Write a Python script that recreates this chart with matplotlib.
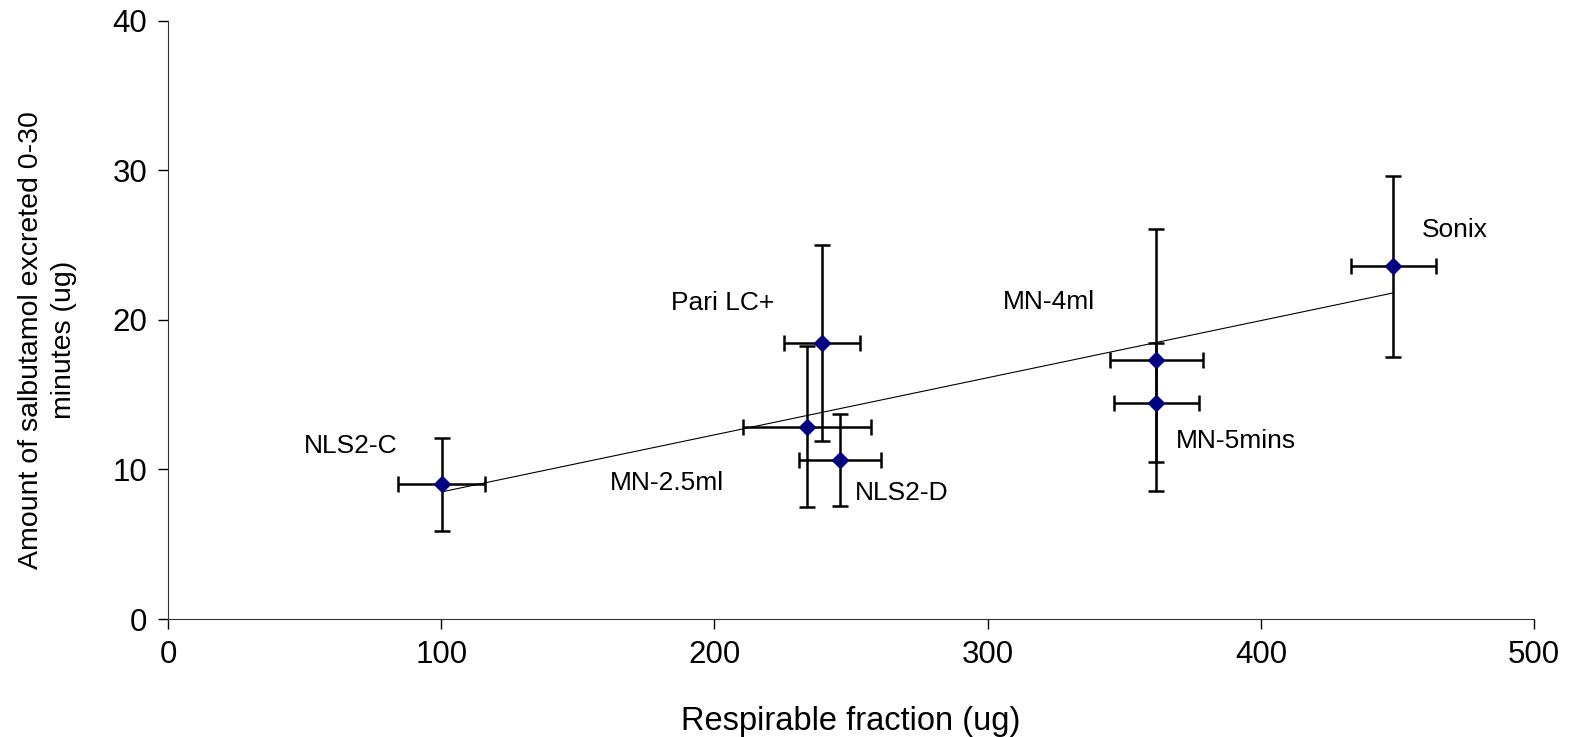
import matplotlib
matplotlib.use("Agg")
import matplotlib.pyplot as plt

plt.rcParams['font.family'] = ['Liberation Sans', 'DejaVu Sans']

# data
devices = ["NLS2-C", "MN-2.5ml", "NLS2-D", "Pari LC+", "MN-4ml", "MN-5mins", "Sonix"]
resp_fraction = [100.2, 233.8, 246.1, 239.4, 361.7, 361.7, 448.4]
resp_err = [16.0, 23.5, 15.0, 14.0, 17.0, 15.6, 15.6]
salbutamol = [9.0, 12.86, 10.63, 18.45, 17.33, 14.47, 23.58]
salb_err = [3.1, 5.4, 3.06, 6.57, 8.75, 4.0, 6.03]

# trend line end points as drawn in the chart
trend_x = [100.2, 448.4]
trend_y = [8.5, 21.8]

# label anchor positions (data units)
label_x = [66.8, 182.5, 268.4, 203.0, 322.3, 368.8, 471.0]
label_y = [11.6, 9.1, 8.4, 21.1, 21.2, 11.9, 26.0]
label_ha = ["center", "center", "center", "center", "center", "left", "center"]

fig = plt.figure(figsize=(15.73, 7.37), dpi=100)
ax = fig.add_axes([0.1068, 0.1601, 0.8685, 0.8118])

ax.plot(trend_x, trend_y, color="black", lw=0.8, zorder=2)

ax.errorbar(resp_fraction, salbutamol, xerr=resp_err, yerr=salb_err,
            fmt="none", ecolor="black", elinewidth=1.8, capsize=6,
            capthick=1.8, zorder=3)
ax.plot(resp_fraction, salbutamol, "D", color="#000080", markersize=8.5,
        linestyle="none", zorder=4)

for name, lx, ly, ha in zip(devices, label_x, label_y, label_ha):
    ax.text(lx, ly, name, fontsize=19, ha=ha, va="center")

ax.set_xlim(0, 500)
ax.set_ylim(0, 40)
ax.set_xticks([0, 100, 200, 300, 400, 500])
ax.set_yticks([0, 10, 20, 30, 40])
ax.tick_params(direction="out", length=7, width=1, labelsize=22.5, pad=8)

for side in ["top", "right"]:
    ax.spines[side].set_visible(False)
for side in ["left", "bottom"]:
    ax.spines[side].set_color("#333333")

ax.set_xlabel("Respirable fraction (ug)", fontsize=23.5, labelpad=26)
# y label placed a little below the axes centre, as in the original
fig.text(0.0302, 0.5387, "Amount of salbutamol excreted 0-30\nminutes (ug)",
         fontsize=20.5, rotation=90, ha="center", va="center",
         multialignment="center", linespacing=1.35)

fig.savefig("out.png", dpi=100, facecolor="white")
